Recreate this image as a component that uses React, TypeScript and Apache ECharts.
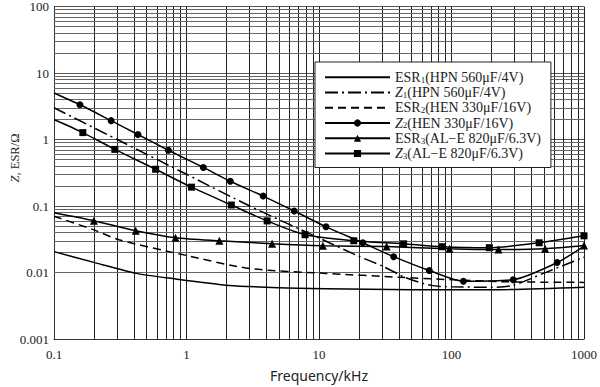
import React, { useEffect, useRef } from "react";
import * as echarts from "echarts";

const xTicks = [0.1, 1, 10, 100, 1000];
const yTicks = [0.001, 0.01, 0.1, 1, 10, 100];

const esr1: [number, number][] = [
  [0.1, 0.0206], [0.2, 0.0142], [0.42, 0.0097], [0.785, 0.0081], [2.1, 0.0064],
  [5, 0.0059], [11.3, 0.0057], [50, 0.0055], [200, 0.0055], [1000, 0.006],
];
const z1: [number, number][] = [
  [0.1, 3.0], [0.3, 1.0], [1, 0.3], [3, 0.1], [10, 0.033], [20, 0.0175],
  [30, 0.0125], [45, 0.0084], [70, 0.0064], [100, 0.0061], [200, 0.006],
  [290, 0.0064], [500, 0.0098], [720, 0.0131], [1000, 0.017],
];
const esr2: [number, number][] = [
  [0.1, 0.07], [0.2, 0.0438], [0.31, 0.031], [0.93, 0.0186], [2.98, 0.0115],
  [11.3, 0.0097], [40, 0.0085], [225, 0.0073], [1000, 0.0071],
];
const z2: [number, number][] = [
  [0.1, 5.0], [0.157, 3.33], [0.27, 1.92], [0.43, 1.19], [0.73, 0.69], [1.34, 0.38],
  [2.14, 0.236], [3.79, 0.141], [6.5, 0.084], [11.3, 0.0486], [21.4, 0.028],
  [36.6, 0.0173], [68, 0.0107], [123, 0.0074], [292, 0.0078], [627, 0.0141], [1000, 0.025],
];
const esr3: [number, number][] = [
  [0.1, 0.079], [0.2, 0.06], [0.414, 0.0424], [0.826, 0.0333], [1.77, 0.030],
  [4.43, 0.0271], [10.7, 0.0253], [32.4, 0.0245], [96.6, 0.0228], [226, 0.0221],
  [509, 0.0228], [1000, 0.0255],
];
const z3: [number, number][] = [
  [0.1, 2.0], [0.165, 1.27], [0.288, 0.71], [0.585, 0.357], [1.09, 0.192],
  [2.18, 0.1035], [4.06, 0.0597], [7.85, 0.037], [18.3, 0.030], [43.5, 0.027],
  [85.5, 0.0244], [193, 0.0236], [459, 0.028], [1000, 0.0356],
];

const names = [
  "ESR1(HPN 560μF/4V)",
  "Z1(HPN 560μF/4V)",
  "ESR2(HEN 330μF/16V)",
  "Z2(HEN 330μF/16V)",
  "ESR3(AL−E 820μF/6.3V)",
  "Z3(AL−E 820μF/6.3V)",
];
const plainLineNames = [names[0], names[1], names[2]];

const minorMultipliers = [2, 3, 4, 5, 6, 7, 8, 9];

const SERIF = "'Liberation Serif', 'DejaVu Serif', serif";

export default function App() {
  const ref = useRef<HTMLDivElement>(null);
  useEffect(() => {
    if (!ref.current) return;
    const chart = echarts.init(ref.current, null, { renderer: "svg" });

    const xMinor: number[] = [];
    for (let i = 0; i < xTicks.length - 1; i++)
      for (const m of minorMultipliers) xMinor.push(Number((xTicks[i] * m).toPrecision(3)));
    const yMinor: number[] = [];
    for (let i = 0; i < yTicks.length - 1; i++)
      for (const m of minorMultipliers) yMinor.push(Number((yTicks[i] * m).toPrecision(3)));

    const mk = (arr: [number, number][], noSym: number[]) =>
      arr.map((p, i) => (noSym.includes(i) ? { value: p, symbol: "none" } : { value: p }));

    const base = {
      type: "line" as const,
      smooth: 0.25,
      color: "#000",
      symbolSize: 7,
      z: 5,
    };

    const option: any = {
      animation: false,
      backgroundColor: "#fff",
      grid: { left: 54, right: 11, top: 6, bottom: 44, containLabel: false },
      graphic: [
        {
          type: "text",
          x: 15,
          y: 158,
          rotation: Math.PI / 2,
          style: {
            text: "{i|Z}{n|, ESR/Ω}",
            align: "center",
            verticalAlign: "middle",
            rich: {
              i: { fontFamily: SERIF, fontStyle: "italic", fontSize: 12.5, fill: "#222" },
              n: { fontFamily: SERIF, fontSize: 12.5, fill: "#222" },
            },
          },
        },
      ],
      xAxis: {
        type: "log",
        logBase: 10,
        min: 0.1,
        max: 1000,
        name: "Frequency/kHz",
        nameLocation: "middle",
        nameGap: 29,
        nameTextStyle: { fontFamily: "'Noto Sans', sans-serif", fontSize: 14, color: "#222" },
        axisLine: { show: true, lineStyle: { color: "#333", width: 1 } },
        axisTick: { show: false },
        axisLabel: {
          fontFamily: SERIF,
          fontSize: 13,
          color: "#222",
          margin: 9,
          formatter: (v: number) => String(Number(v.toPrecision(3))),
        },
        splitLine: { show: true, lineStyle: { color: "#222", width: 1 } },
      },
      yAxis: {
        type: "log",
        logBase: 10,
        min: 0.001,
        max: 100,
        axisLine: { show: true, lineStyle: { color: "#333", width: 1 } },
        axisTick: { show: false },
        axisLabel: {
          fontFamily: SERIF,
          fontSize: 13,
          color: "#222",
          margin: 5,
          formatter: (v: number) => String(Number(v.toPrecision(3))),
        },
        splitLine: { show: true, lineStyle: { color: "#555", width: 1 } },
      },
      legend: {
        orient: "vertical",
        left: 315,
        top: 62,
        backgroundColor: "#fff",
        borderColor: "#222",
        borderWidth: 1,
        padding: [8, 10, 7, 9],
        itemWidth: 65,
        itemHeight: 9,
        itemGap: 1,
        data: names.map((n) =>
          plainLineNames.includes(n)
            ? { name: n, itemStyle: { opacity: 0, color: "transparent", borderColor: "transparent" } }
            : { name: n }
        ),
        formatter: (name: string) => {
          const m = name.match(/^(ESR|Z)(\d)(.*)$/);
          if (!m) return name;
          const head = m[1] === "Z" ? `{i|${m[1]}}` : `{n|${m[1]}}`;
          return `${head}{s|${m[2]}}{n|${m[3]}}`;
        },
        textStyle: {
          rich: {
            n: { fontFamily: SERIF, fontSize: 14, color: "#222", lineHeight: 13.5 },
            i: { fontFamily: SERIF, fontStyle: "italic", fontSize: 14, color: "#222", lineHeight: 13.5 },
            s: { fontFamily: SERIF, fontSize: 9, color: "#222", verticalAlign: "bottom", lineHeight: 13.5, padding: [5, 0, 0, 0] },
          },
        },
      },
      series: [
        {
          ...base,
          name: names[0],
          data: mk(esr1, esr1.map((_, i) => i)),
          symbol: "none",
          lineStyle: { color: "#000", width: 1.5, type: "solid" },
          markLine: {
            silent: true,
            symbol: ["none", "none"],
            label: { show: false },
            emphasis: { disabled: true },
            z: 1,
            data: [
              ...xMinor.map((x) => ({ xAxis: x, lineStyle: { color: "#222", width: 1, type: "solid" } })),
              ...yMinor.map((y) => ({ yAxis: y, lineStyle: { color: "#666", width: 1, type: "solid" } })),
            ],
          },
        },
        {
          ...base,
          name: names[1],
          data: mk(z1, z1.map((_, i) => i)),
          symbol: "none",
          lineStyle: { color: "#000", width: 1.5, type: [13, 4, 2, 4] },
        },
        {
          ...base,
          name: names[2],
          data: mk(esr2, esr2.map((_, i) => i)),
          symbol: "none",
          lineStyle: { color: "#000", width: 1.5, type: [8, 5] },
        },
        {
          ...base,
          name: names[3],
          data: mk(z2, [0, z2.length - 1]),
          symbol: "circle",
          lineStyle: { color: "#000", width: 1.5 },
          itemStyle: { color: "#000" },
        },
        {
          ...base,
          name: names[4],
          data: mk(esr3, [0]),
          symbol: "triangle",
          symbolSize: 8,
          lineStyle: { color: "#000", width: 1.5 },
          itemStyle: { color: "#000" },
        },
        {
          ...base,
          name: names[5],
          data: mk(z3, [0]),
          symbol: "rect",
          lineStyle: { color: "#000", width: 1.5 },
          itemStyle: { color: "#000" },
        },
      ],
    };
    chart.setOption(option);
    return () => chart.dispose();
  }, []);
  return <div ref={ref} style={{ width: 600, height: 387, position: "absolute", left: 0, top: 0 }} />;
}
